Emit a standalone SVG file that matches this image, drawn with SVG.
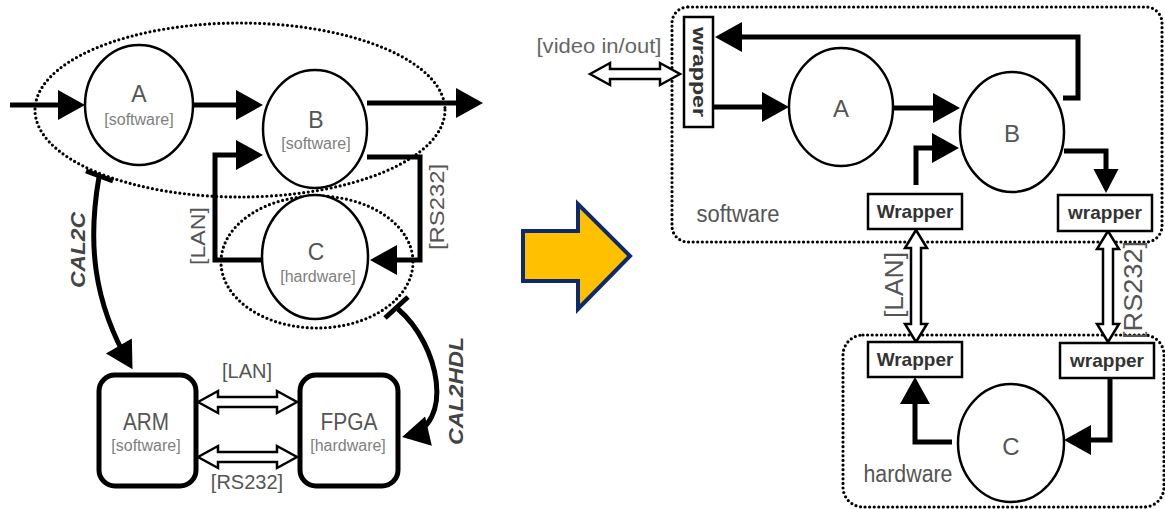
<svg xmlns="http://www.w3.org/2000/svg" width="1165" height="509" viewBox="0 0 1165 509">
<style>
.dot{fill:none;stroke:#000;stroke-width:3.2;stroke-dasharray:0 4.6;stroke-linecap:round}
.circ{fill:#fff;stroke:#000;stroke-width:2.5}
.conn{fill:none;stroke:#000;stroke-width:5;stroke-linejoin:miter}
.bar{stroke:#000;stroke-width:5;stroke-linecap:butt}
.dbl{fill:#fff;stroke:#000;stroke-width:2.5;stroke-linejoin:miter}
.wr{fill:#fff;stroke:#000;stroke-width:2.5}
.box{fill:#fff;stroke:#000;stroke-width:5}
text{font-family:"Liberation Sans",Arial,sans-serif}
.big{font-size:23px;fill:#555;text-anchor:middle}
.sub{font-size:16px;fill:#808080;text-anchor:middle}
.lbl{font-size:20px;fill:#555;text-anchor:middle}
.wt{font-size:19px;font-weight:bold;fill:#333;text-anchor:middle}
.cal{font-size:21px;font-weight:bold;font-style:italic;fill:#444;text-anchor:middle}
</style>
<defs>
<marker id="ah" markerUnits="userSpaceOnUse" markerWidth="28" markerHeight="32" refX="22" refY="15" orient="auto" overflow="visible">
<path d="M0,0 L27,15 L0,30 z" fill="#000"/>
</marker>
<marker id="ahs" markerUnits="userSpaceOnUse" markerWidth="26" markerHeight="28" refX="19" refY="12.5" orient="auto" overflow="visible">
<path d="M0,0 L24,12.5 L0,25 z" fill="#000"/>
</marker>
</defs>

<!-- LEFT PANEL -->
<g id="sw-ellipse"><ellipse class="dot" cx="240" cy="110" rx="205" ry="87"/></g>
<g id="hw-ellipse"><ellipse class="dot" cx="317" cy="262" rx="96" ry="66"/></g>

<g id="connectors-left">
<path class="conn" d="M10,105 H80" marker-end="url(#ah)"/>
<path class="conn" d="M193,105 H258" marker-end="url(#ah)"/>
<path class="conn" d="M367,103 H478" marker-end="url(#ah)"/>
<path class="conn" d="M263,260 H215 V155 H258" marker-end="url(#ah)"/>
<path class="conn" d="M367,157 H420 V260 H375" marker-end="url(#ah)"/>
<path class="conn" d="M99,177 C88,240 92,300 130,365" marker-end="url(#ah)"/>
<line class="bar" x1="86" y1="171" x2="113" y2="181"/>
<path class="conn" d="M398,309 C440,345 455,425 407,436" marker-end="url(#ah)"/>
<line class="bar" x1="385" y1="318" x2="408" y2="297"/>
<polygon class="dbl" points="198,402 218,391 218,397 277,397 277,391 297,402 277,413 277,407 218,407 218,413"/>
<polygon class="dbl" points="198,457 218,446 218,452 277,452 277,446 297,457 277,468 277,462 218,462 218,468"/>
</g>

<g id="node-A-left">
<ellipse class="circ" cx="139" cy="105" rx="54" ry="60"/>
<text class="big" x="139" y="102">A</text>
<text class="sub" x="139" y="125">[software]</text>
</g>
<g id="node-B-left">
<ellipse class="circ" cx="315" cy="129" rx="52" ry="59"/>
<text class="big" x="316" y="128">B</text>
<text class="sub" x="316" y="149">[software]</text>
</g>
<g id="node-C-left">
<ellipse class="circ" cx="315" cy="257" rx="53" ry="62"/>
<text class="big" x="316" y="260">C</text>
<text class="sub" x="318" y="282">[hardware]</text>
</g>
<g id="node-ARM">
<rect class="box" x="99" y="375" width="97" height="111" rx="16"/>
<text class="big" x="146" y="430" textLength="46" lengthAdjust="spacingAndGlyphs">ARM</text>
<text class="sub" x="146" y="451">[software]</text>
</g>
<g id="node-FPGA">
<rect class="box" x="300" y="375" width="98" height="111" rx="16"/>
<text class="big" x="349" y="430" textLength="57" lengthAdjust="spacingAndGlyphs">FPGA</text>
<text class="sub" x="348" y="451">[hardware]</text>
</g>

<g id="labels-left">
<text class="lbl" transform="translate(205,236) rotate(-90)" textLength="58" lengthAdjust="spacingAndGlyphs">[LAN]</text>
<text class="lbl" transform="translate(444,207) rotate(-90)" textLength="86" lengthAdjust="spacingAndGlyphs">[RS232]</text>
<text class="cal" transform="translate(85,250) rotate(-90)" textLength="76" lengthAdjust="spacingAndGlyphs">CAL2C</text>
<text class="cal" transform="translate(463,391) rotate(-90)" textLength="108" lengthAdjust="spacingAndGlyphs">CAL2HDL</text>
<text class="lbl" x="247" y="378">[LAN]</text>
<text class="lbl" x="247" y="489">[RS232]</text>
</g>

<!-- CENTER ARROW -->
<g id="transform-arrow">
<polygon points="523,231 578,231 578,204 630,256 578,309 578,281 523,281" fill="#FFC000" stroke="#0E2A6E" stroke-width="4" stroke-linejoin="miter"/>
</g>

<!-- RIGHT PANEL -->
<g id="sw-region">
<rect class="dot" x="672" y="7" width="490" height="235" rx="16"/>
<text x="738" y="222" font-size="23" fill="#555" text-anchor="middle" textLength="83" lengthAdjust="spacingAndGlyphs">software</text>
</g>
<g id="hw-region">
<rect class="dot" x="843" y="335" width="321" height="172" rx="20"/>
<text x="908" y="482" font-size="23" fill="#555" text-anchor="middle" textLength="89" lengthAdjust="spacingAndGlyphs">hardware</text>
</g>

<g id="connectors-right">
<path class="conn" d="M1063,98 H1078 V37 H720" marker-end="url(#ah)"/>
<path class="conn" d="M713,107 H784" marker-end="url(#ah)"/>
<path class="conn" d="M892,108 H955" marker-end="url(#ah)"/>
<path class="conn" d="M916,185 V148 H954" marker-end="url(#ah)"/>
<path class="conn" d="M1064,151 H1106 V188" marker-end="url(#ahs)"/>
<path class="conn" d="M952,442 H915 V382" marker-end="url(#ah)"/>
<path class="conn" d="M1110,378 V440 H1069" marker-end="url(#ah)"/>
<polygon class="dbl" points="590,74 610,63 610,69 660,69 660,63 680,74 660,85 660,79 610,79 610,85"/>
<polygon class="dbl" points="916,230 927,248 921,248 921,324 927,324 916,342 905,324 911,324 911,248 905,248"/>
<polygon class="dbl" points="1108,231 1119,249 1113,249 1113,324 1119,324 1108,342 1097,324 1103,324 1103,249 1097,249"/>
</g>

<g id="video-label">
<text x="599" y="53" font-size="21" fill="#666" text-anchor="middle" textLength="125" lengthAdjust="spacingAndGlyphs">[video in/out]</text>
</g>
<g id="wrapper-video">
<rect class="wr" x="684" y="17" width="29" height="110"/>
<text class="wt" font-size="20" transform="translate(693,72) rotate(90)" textLength="90" lengthAdjust="spacingAndGlyphs">wrapper</text>
</g>
<g id="node-A-right">
<ellipse class="circ" cx="841" cy="107" rx="52" ry="59"/>
<text x="841" y="117" font-size="24" fill="#555" text-anchor="middle">A</text>
</g>
<g id="node-B-right">
<ellipse class="circ" cx="1012" cy="132" rx="52" ry="60"/>
<text x="1012" y="142" font-size="24" fill="#555" text-anchor="middle">B</text>
</g>
<g id="node-C-right">
<ellipse class="circ" cx="1011" cy="443" rx="53" ry="59"/>
<text x="1011" y="455" font-size="24" fill="#555" text-anchor="middle">C</text>
</g>
<g id="wrapper-sw-lan">
<rect class="wr" x="868" y="194" width="94" height="35"/>
<text class="wt" x="915" y="218">Wrapper</text>
</g>
<g id="wrapper-sw-rs232">
<rect class="wr" x="1058" y="195" width="94" height="36"/>
<text class="wt" x="1105" y="219">wrapper</text>
</g>
<g id="wrapper-hw-lan">
<rect class="wr" x="868" y="342" width="94" height="35"/>
<text class="wt" x="915" y="366">Wrapper</text>
</g>
<g id="wrapper-hw-rs232">
<rect class="wr" x="1060" y="343" width="94" height="35"/>
<text class="wt" x="1107" y="367">wrapper</text>
</g>
<g id="labels-right">
<text transform="translate(903,285) rotate(-90)" font-size="25" fill="#555" text-anchor="middle" textLength="66" lengthAdjust="spacingAndGlyphs">[LAN]</text>
<text transform="translate(1142,290) rotate(-90)" font-size="26" fill="#555" text-anchor="middle" textLength="98" lengthAdjust="spacingAndGlyphs">[RS232]</text>
</g>
</svg>
